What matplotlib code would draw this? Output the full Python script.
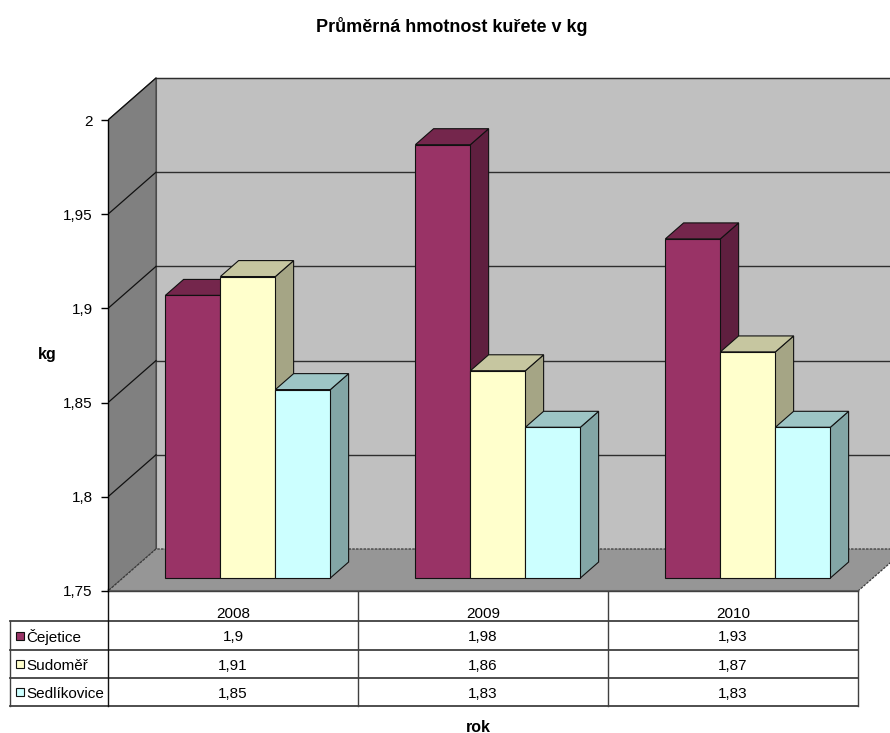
import matplotlib
matplotlib.use("Agg")
import matplotlib.pyplot as plt
from matplotlib.patches import Polygon, Rectangle

# ---- data -------------------------------------------------------------
years = ["2008", "2009", "2010"]
series_names = ["Čejetice", "Sudoměř", "Sedlíkovice"]
cejetice = [1.90, 1.98, 1.93]
sudomer = [1.91, 1.86, 1.87]
sedlikovice = [1.85, 1.83, 1.83]
y_ticks = [1.75, 1.80, 1.85, 1.90, 1.95, 2.00]

series_values = [cejetice, sudomer, sedlikovice]

# ---- styling ----------------------------------------------------------
front_colors = ["#993366", "#FFFFCC", "#CCFFFF"]
top_colors = ["#74264C", "#C6C6A0", "#9DC5C5"]
side_colors = ["#5F1F3F", "#A5A585", "#83A6A6"]
back_wall = "#C0C0C0"
side_wall = "#808080"
floor_col = "#969696"
plt.rcParams["font.family"] = ["Liberation Sans", "DejaVu Sans"]
FS = 11

W, H = 890, 733
fig = plt.figure(figsize=(W / 100, H / 100), dpi=100)


def fx(px):
    return px / W


def fy(py):
    return 1 - py / H


# plot area geometry (pixels)
x0_px, y0_px, top_px = 108, 591, 60
cat_px = 250          # pixels per category
unit_px = 1884        # pixels per kg
ymin = y_ticks[0]

ax = fig.add_axes([fx(x0_px), fy(y0_px), (W - x0_px) / W, (y0_px - top_px) / H])
xmax = (W - x0_px) / cat_px
ax.set_xlim(0, xmax)
ax.set_ylim(ymin, ymin + (y0_px - top_px) / unit_px)
ax.patch.set_visible(False)

# depth projection in data units
DX = 48 / cat_px
DY = 42 / unit_px
ncat = len(years)
ymax = y_ticks[-1]

# walls and floor
ax.add_patch(Polygon([(DX, ymin + DY), (DX, ymax + DY), (xmax + 1, ymax + DY), (xmax + 1, ymin + DY)],
                     closed=True, facecolor=back_wall, edgecolor="#555555", lw=0.8, zorder=1))
ax.add_patch(Polygon([(0, ymin), (0, ymax), (DX, ymax + DY), (DX, ymin + DY)],
                     closed=True, facecolor=side_wall, edgecolor="#444444", lw=0.8, zorder=1.2))
ax.add_patch(Polygon([(0, ymin), (ncat, ymin), (ncat + DX, ymin + DY), (DX, ymin + DY)],
                     closed=True, facecolor=floor_col, edgecolor="#3c3c3c", lw=0.9,
                     linestyle=(0, (2, 1)), zorder=1.3, clip_on=True))
ax.plot([0, ncat], [ymin, ymin], color="#5a5a5a", lw=2.2, zorder=1.4, solid_capstyle="butt")

# gridlines on the back wall and side wall
for v in y_ticks[1:]:
    ax.plot([DX, xmax + 1], [v + DY, v + DY], color="#2e2e2e", lw=1.0, zorder=2)
    ax.plot([0, DX], [v, v + DY], color="#111111", lw=0.9, zorder=2)

# 3D columns
f_front = 0.31
f_depth = 0.38
group_left = 0.17
bar_w = 0.22
z = 3
for i in range(ncat):
    for j, vals in enumerate(series_values):
        v = vals[i]
        xl = i + group_left + j * bar_w + f_front * DX
        xr = xl + bar_w
        yb = ymin + f_front * DY
        yt = v + f_front * DY
        ddx, ddy = f_depth * DX, f_depth * DY
        ax.add_patch(Polygon([(xr, yb), (xr, yt), (xr + ddx, yt + ddy), (xr + ddx, yb + ddy)],
                             closed=True, facecolor=side_colors[j], edgecolor="#111111", lw=0.8, zorder=z))
        ax.add_patch(Polygon([(xl, yt), (xr, yt), (xr + ddx, yt + ddy), (xl + ddx, yt + ddy)],
                             closed=True, facecolor=top_colors[j], edgecolor="#111111", lw=0.8, zorder=z))
        ax.add_patch(Rectangle((xl, yb), bar_w, v - ymin, facecolor=front_colors[j],
                               edgecolor="#111111", lw=0.8, zorder=z + 0.5))
        z += 1

# value axis
for s in ["top", "right", "bottom"]:
    ax.spines[s].set_visible(False)
ax.spines["left"].set_bounds(ymin, ymax)
ax.spines["left"].set_linewidth(1.0)
ax.spines["left"].set_zorder(10)
ax.set_xticks([])
ax.set_yticks(y_ticks)
ax.set_yticklabels([f"{v:g}".replace(".", ",") for v in y_ticks])
ax.tick_params(axis="y", direction="out", length=5, width=1.0, pad=6, labelsize=FS)

# ---- data table ---------------------------------------------------------
ov = fig.add_axes([0, 0, 1, 1], zorder=-1)
ov.set_xlim(0, W)
ov.set_ylim(H, 0)
ov.axis("off")

row_y = [y0_px, 621, 650, 678, 706]
col_x = [x0_px + k * cat_px for k in range(ncat + 1)]
left_x = 10
lc = "#404040"

# horizontal rules
ov.plot([col_x[0], col_x[-1]], [row_y[0], row_y[0]], color=lc, lw=1)
for yy in row_y[1:]:
    ov.plot([left_x, col_x[-1]], [yy, yy], color=lc, lw=1.3)
# vertical rules
ov.plot([col_x[0], col_x[0]], [row_y[0] - 2, row_y[-1]], color="#111111", lw=1)
for xx in col_x[1:]:
    ov.plot([xx, xx], [row_y[0], row_y[-1]], color=lc, lw=1)
ov.plot([left_x, left_x], [row_y[1], row_y[-1]], color=lc, lw=1)

for k, yr in enumerate(years):
    ov.text((col_x[k] + col_x[k + 1]) / 2, 613, yr,
            ha="center", va="center_baseline", fontsize=FS)
for j, name in enumerate(series_names):
    yc = (row_y[j + 1] + row_y[j + 2]) / 2
    ov.add_patch(Rectangle((16, yc - 4), 8, 8, facecolor=front_colors[j], edgecolor="#111111", lw=0.8))
    ov.text(26, yc, name, ha="left", va="center_baseline", fontsize=FS)
    for k in range(ncat):
        ov.text((col_x[k] + col_x[k + 1]) / 2, yc, f"{series_values[j][k]:g}".replace(".", ","),
                ha="center", va="center_baseline", fontsize=FS)

# titles
fig.text(fx(452), fy(27), "Průměrná hmotnost kuřete v kg", ha="center", va="center",
         fontsize=13, fontweight="bold")
fig.text(fx(47), fy(355), "kg", ha="center", va="center", fontsize=11.5, fontweight="bold")
fig.text(fx(478), fy(727), "rok", ha="center", va="center", fontsize=11.5, fontweight="bold")

fig.savefig("out.png", dpi=100, facecolor="white")
